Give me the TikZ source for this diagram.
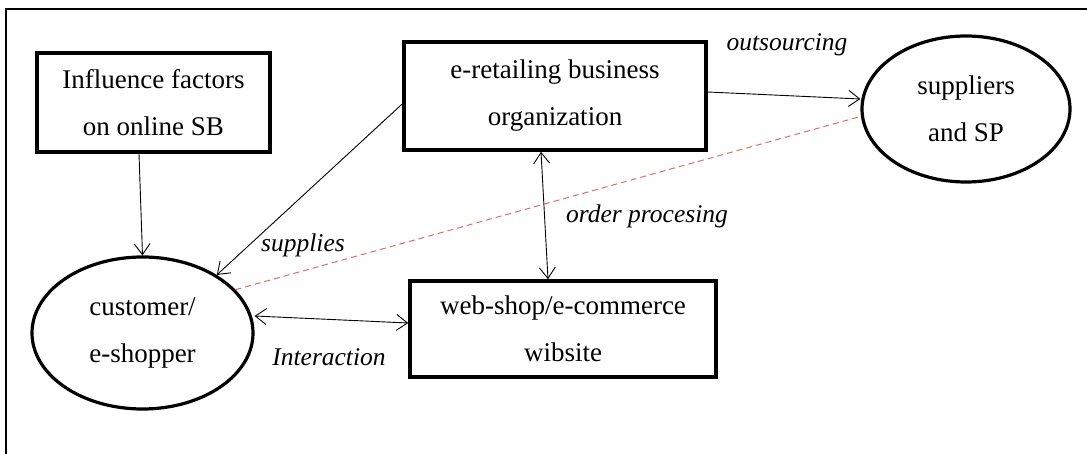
\documentclass[tikz,border=0pt]{standalone}
\usepackage{fontspec}
\setmainfont{Liberation Serif}
\usetikzlibrary{arrows.meta,shapes.geometric}
\definecolor{dashred}{RGB}{222,110,105}
\begin{document}
\begin{tikzpicture}[x=1pt,y=-1pt,
  box/.style={draw,line width=3.6pt,minimum width=#1,align=center,font=\fontsize{27}{47}\selectfont,inner sep=0pt},
  oval/.style={draw,ellipse,line width=3.2pt,align=center,font=\fontsize{27}{47}\selectfont,inner sep=0pt},
  tip/.style={Straight Barb[length=11pt,width=16pt,line width=0.9pt]},
  link/.style={line width=0.9pt,-{Straight Barb[length=11pt,width=16pt,line width=0.9pt]}},
  both/.style={line width=0.9pt,{Straight Barb[length=11pt,width=16pt,line width=0.9pt]}-{Straight Barb[length=11pt,width=16pt,line width=0.9pt]}},
  lbl/.style={font=\fontsize{25.5}{28}\selectfont\itshape}]
\useasboundingbox (0,0) rectangle (1087,454);
\fill[white] (0,0) rectangle (1087,454);
% outer frame
\draw[line width=1.6pt] (6,460) -- (6,9) -- (1095,9);

% nodes
\node[box=233pt,minimum height=99pt] (inf) at (153.5,102.5) {Influence factors\\on online SB};
\node[box=302pt,minimum height=108pt] (org) at (555,96) {e-retailing business\\organization};
\node[oval,minimum width=208pt,minimum height=146pt] (sup) at (966,109) {suppliers\\and SP};
\node[oval,minimum width=221pt,minimum height=152pt] (cus) at (142.5,333) {customer/\\e-shopper};
\node[box=306pt,minimum height=96pt] (web) at (563,329) {web-shop/e-commerce\\wibsite};

% connectors
\draw[link] (inf.south -| 139,0) -- (cus.north);
\draw[link] (org.west |- 0,104) -- (cus.{38});
\draw[link] (org.east |- 0,92) -- (sup.west |- 0,99);
\draw[both] (org.south -| 541,0) -- (web.north -| 548,0);
\draw[both] (cus.east |- 0,316) -- (web.west |- 0,323);
\draw[dashred,line width=1pt,dash pattern=on 6pt off 4pt] (cus.{25}) -- (sup.{184});

% labels
\node[lbl] (l1) at (787,45) {outsourcing};
\node[lbl] (l2) at (303,245) {supplies};
\node[lbl] (l3) at (647,216) {order procesing};
\node[lbl] (l4) at (329,357) {Interaction};
\end{tikzpicture}
\end{document}
